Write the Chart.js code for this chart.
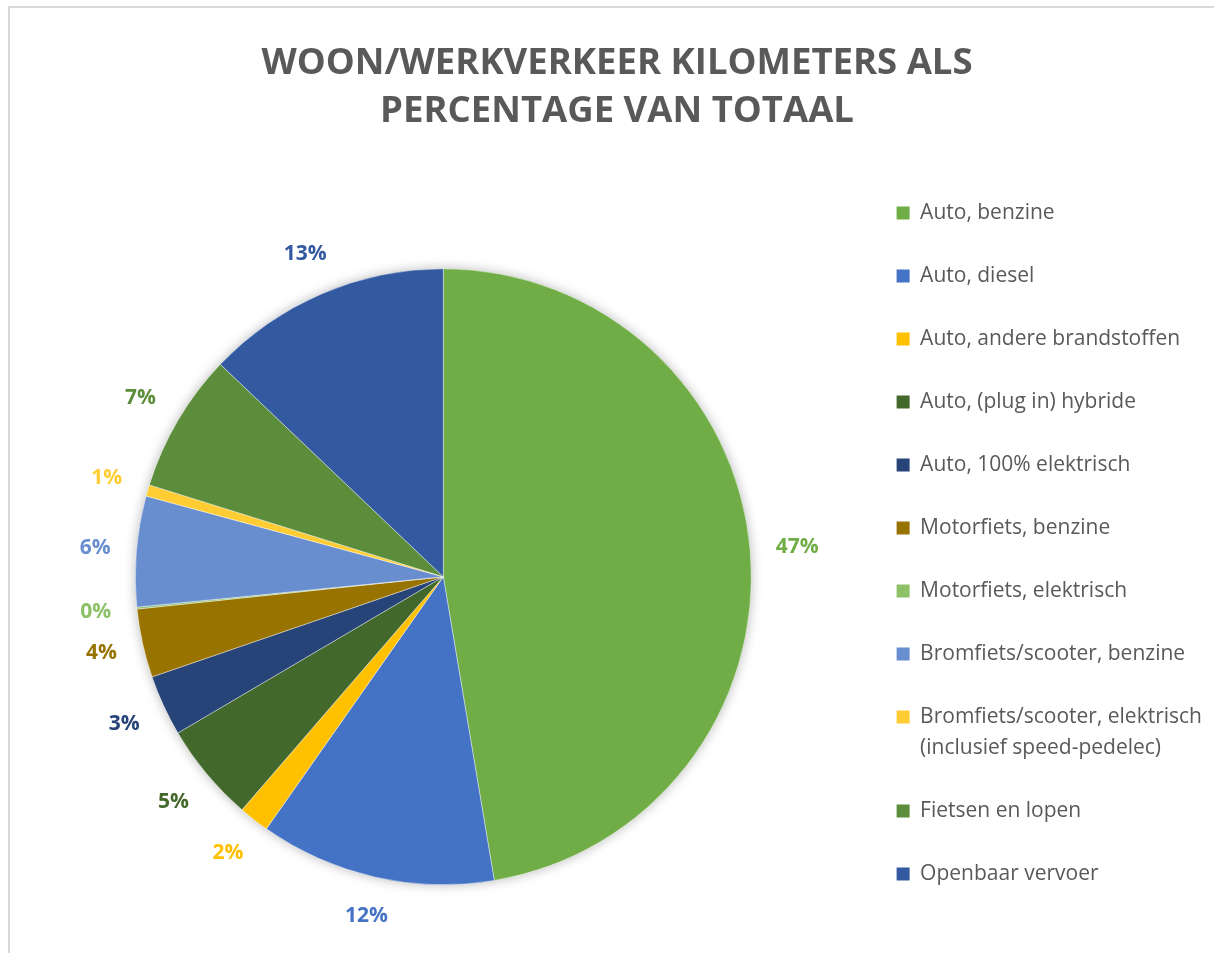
<!DOCTYPE html>
<html>
<head>
<meta charset="utf-8">
<script src="https://cdn.jsdelivr.net/npm/chart.js@4.4.1/dist/chart.umd.min.js"></script>
<style>
  html, body { margin: 0; padding: 0; background: #fff; overflow: hidden; }
  #frame { position: absolute; left: 8px; top: 6px; width: 1220px; height: 990px;
           border-left: 2px solid #d9d9d9; border-top: 2px solid #d9d9d9; }
  #chart { position: absolute; left: 0; top: 0; }
</style>
</head>
<body>
<div id="frame"></div>
<!-- canvas iets hoger dan het venster zodat de taart op dezelfde hoogte staat als in Excel -->
<canvas id="chart" width="1214" height="983"></canvas>
<script>
// Woon/werkverkeer kilometers, aandeel per vervoerswijze (%)
const categories = [
  'Auto, benzine',
  'Auto, diesel',
  'Auto, andere brandstoffen',
  'Auto, (plug in) hybride',
  'Auto, 100% elektrisch',
  'Motorfiets, benzine',
  'Motorfiets, elektrisch',
  'Bromfiets/scooter, benzine',
  ['Bromfiets/scooter, elektrisch', '(inclusief speed-pedelec)'],
  'Fietsen en lopen',
  'Openbaar vervoer'
];
const shares = [47.4, 12.4, 1.6, 5.2, 3.2, 3.6, 0.1, 5.8, 0.6, 7.3, 12.9];
const sliceColors = ['#70AD47', '#4472C4', '#FFC000', '#43682B', '#264478', '#997300',
                     '#8CC168', '#698ED0', '#FFCD33', '#5B8D3B', '#335AA1'];
const titleLines = ['WOON/WERKVERKEER KILOMETERS ALS', 'PERCENTAGE VAN TOTAAL'];

const TEXT_GREY = '#595959';

// zachte schaduw onder de hele taart
const pieShadow = {
  id: 'pieShadow',
  beforeDatasetsDraw(chart) {
    const arc = chart.getDatasetMeta(0).data[0];
    if (!arc) return;
    const {x, y, outerRadius} = arc.getProps(['x', 'y', 'outerRadius'], true);
    const ctx = chart.ctx;
    ctx.save();
    ctx.shadowColor = 'rgba(0,0,0,0.28)';
    ctx.shadowBlur = 12;
    ctx.fillStyle = '#ffffff';
    ctx.beginPath();
    ctx.arc(x, y, outerRadius, 0, Math.PI * 2);
    ctx.fill();
    ctx.restore();
  }
};

// percentages buiten de taart, in de kleur van het segment
const pctLabels = {
  id: 'pctLabels',
  afterDatasetsDraw(chart) {
    const meta = chart.getDatasetMeta(0);
    const ds = chart.data.datasets[0];
    const total = ds.data.reduce((s, v) => s + v, 0);
    const ctx = chart.ctx;
    ctx.save();
    ctx.font = 'bold 21px "Open Sans"';
    ctx.textAlign = 'center';
    ctx.textBaseline = 'middle';
    meta.data.forEach((arc, i) => {
      const {x, y, startAngle, endAngle, outerRadius} =
        arc.getProps(['x', 'y', 'startAngle', 'endAngle', 'outerRadius'], true);
      const a = (startAngle + endAngle) / 2;
      const txt = Math.round(ds.data[i] / total * 100) + '%';
      const hw = ctx.measureText(txt).width / 2, hh = 10;
      const d = outerRadius + 25 + hw * Math.abs(Math.cos(a)) + hh * Math.abs(Math.sin(a));
      ctx.fillStyle = ds.backgroundColor[i];
      ctx.fillText(txt, x + d * Math.cos(a), y + d * Math.sin(a));
    });
    ctx.restore();
  }
};

new Chart(document.getElementById('chart'), {
  type: 'pie',
  data: {
    labels: categories,
    datasets: [{
      data: shares,
      backgroundColor: sliceColors,
      borderColor: '#ffffff',
      borderWidth: 0.4
    }]
  },
  options: {
    responsive: false,
    animation: false,
    radius: 308,
    layout: { padding: { top: 0, left: 22, right: 2, bottom: 0 } },
    plugins: {
      title: {
        display: true,
        text: titleLines,
        color: TEXT_GREY,
        font: { family: '"Open Sans"', size: 36.5, weight: 'bold', lineHeight: '48px' },
        padding: { top: 40, bottom: 34.5 }
      },
      legend: {
        position: 'right',
        align: 'start',
        fullSize: false,
        labels: {
          color: TEXT_GREY,
          font: { family: '"Open Sans"', size: 21, lineHeight: '31px' },
          boxWidth: 13,
          boxHeight: 13,
          padding: 32,
          generateLabels(chart) {
            const items = Chart.overrides.pie.plugins.legend.labels.generateLabels(chart);
            return items.map(it => ({ ...it, lineWidth: 0,
              text: Array.isArray(it.text) ? it.text : [it.text] }));
          }
        }
      },
      tooltip: { enabled: false }
    }
  },
  plugins: [pieShadow, pctLabels]
});
</script>
</body>
</html>
